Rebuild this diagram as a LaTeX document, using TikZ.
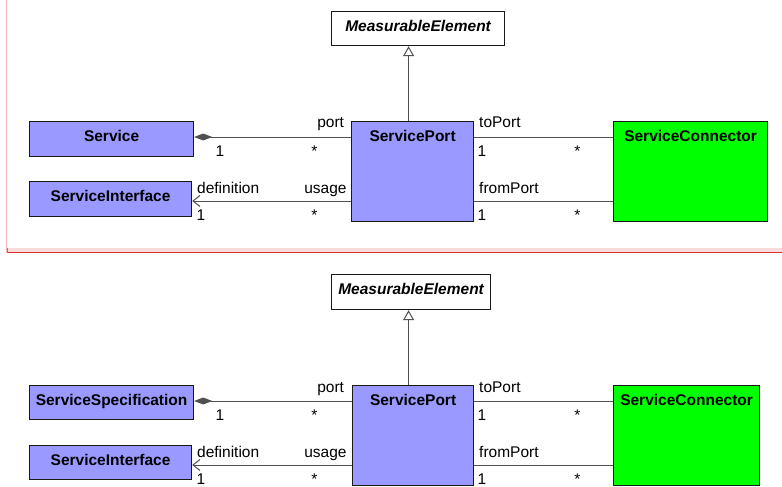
\documentclass[tikz,border=0pt]{standalone}
\usepackage{fontspec}
\setmainfont{Liberation Sans}
\usetikzlibrary{arrows.meta}

\definecolor{classfill}{RGB}{153,153,255}
\definecolor{connfill}{RGB}{0,255,0}
\definecolor{edgegray}{RGB}{80,80,80}
\definecolor{framepink}{RGB}{244,182,182}
\definecolor{bandpink}{RGB}{246,220,220}
\definecolor{framered}{RGB}{220,48,48}

\begin{document}
\begin{tikzpicture}[
  x=1pt, y=-1pt, font=\fontsize{15.5}{18}\selectfont,
  classbox/.style={draw=black!90, line width=1.2pt, fill=classfill,
    anchor=north west, inner xsep=0pt, inner ysep=0pt,
    text height=19.5pt, font=\fontsize{15.5}{18}\selectfont\bfseries},
  abstractbox/.style={classbox, fill=white,
    font=\fontsize{15.5}{18}\selectfont\bfseries\itshape},
  role/.style={inner sep=0pt},
  assoc/.style={draw=edgegray, line width=1pt},
  compose/.style={assoc, {Diamond[length=18pt,width=7pt]}-},
  navig/.style={assoc, {Straight Barb[length=7pt,width=11pt]}-},
  inherit/.style={assoc, -{Triangle[open,length=10pt,width=11pt,fill=white]}}
]
% Pixel grid: 782 by 487, y runs downwards.
\path[use as bounding box] (0,0) rectangle (782,487);

% Frame of the upper panel: pink left edge and a red rule under it.
\fill[bandpink] (7,248) rectangle (782,252);
\draw[framered, line width=1.2pt] (7,252.5) -- (782,252.5);
\draw[framepink, line width=1pt] (6,0) -- (6,253);
\draw[framered!80, line width=1pt] (7.5,248) -- (7.5,253);

% Upper panel: classes.
\node[abstractbox, minimum width=173pt, text depth=14.5pt] (me1) at (331,11)
  {MeasurableElement};
\node[classbox, minimum width=164pt, text depth=15.5pt] (sv1) at (29,121)
  {Service};
\node[classbox, minimum width=162pt, text depth=15.5pt] (si1) at (29,181)
  {ServiceInterface};
\node[classbox, minimum width=122pt, text depth=80.5pt] (sp1) at (351,121)
  {ServicePort};
\node[classbox, fill=connfill, minimum width=154pt, text depth=80.5pt]
  (sc1) at (613,121) {ServiceConnector};

% Upper panel: relations with their role names and multiplicities.
\draw[inherit] ([xshift=-4pt]sp1.north) -- ([xshift=-4pt]sp1.north |- me1.south);
\draw[compose] ([yshift=-16pt]sv1.north east) -- ([yshift=-16pt]sp1.north west)
  node[role, pos=0, anchor=base west, xshift=21pt, yshift=-19pt] (portone1) {1}
  node[role, pos=1, anchor=base east, xshift=-33pt, yshift=-19pt] (portmany1) {*}
  node[role, pos=1, anchor=base east, xshift=-6.5pt, yshift=9pt] (portrole1) {port};
\draw[navig] ([yshift=-20pt]si1.north east) -- ([yshift=-20pt]si1.north east -| sp1.west)
  node[role, pos=0, anchor=base west, xshift=4.5pt, yshift=8pt] (defrole1) {definition}
  node[role, pos=0, anchor=base west, xshift=4pt, yshift=-19pt] (defone1) {1}
  node[role, pos=1, anchor=base east, xshift=-4pt, yshift=8pt] (userole1) {usage}
  node[role, pos=1, anchor=base east, xshift=-33pt, yshift=-19pt] (usemany1) {*};
\draw[assoc] ([yshift=-16pt]sp1.north east) -- ([yshift=-16pt]sc1.north west)
  node[role, pos=0, anchor=base west, xshift=4.5pt, yshift=9pt] (torole1) {toPort}
  node[role, pos=0, anchor=base west, xshift=3pt, yshift=-19pt] (toone1) {1}
  node[role, pos=1, anchor=base east, xshift=-32pt, yshift=-19pt] (tomany1) {*};
\draw[assoc] ([yshift=-80pt]sp1.north east) -- ([yshift=-80pt]sc1.north west)
  node[role, pos=0, anchor=base west, xshift=4.5pt, yshift=8pt] (fromrole1) {fromPort}
  node[role, pos=0, anchor=base west, xshift=3pt, yshift=-19pt] (fromone1) {1}
  node[role, pos=1, anchor=base east, xshift=-32pt, yshift=-19pt] (frommany1) {*};

% Lower panel: classes.
\node[abstractbox, minimum width=159pt, text depth=15.5pt] (me2) at (331,274)
  {MeasurableElement};
\node[classbox, minimum width=164pt, text depth=14.5pt] (ss2) at (29,385)
  {ServiceSpecification};
\node[classbox, minimum width=162pt, text depth=14.5pt] (si2) at (29,445)
  {ServiceInterface};
\node[classbox, minimum width=121pt, text depth=80.5pt] (sp2) at (352,385)
  {ServicePort};
\node[classbox, fill=connfill, minimum width=146pt, text depth=80.5pt]
  (sc2) at (613,385) {ServiceConnector};

% Lower panel: relations.
\draw[inherit] ([xshift=-4.5pt]sp2.north) -- ([xshift=-4.5pt]sp2.north |- me2.south);
\draw[compose] ([yshift=-16pt]ss2.north east) -- ([yshift=-16pt]sp2.north west)
  node[role, pos=0, anchor=base west, xshift=21pt, yshift=-19pt] (portone2) {1}
  node[role, pos=1, anchor=base east, xshift=-34pt, yshift=-19pt] (portmany2) {*}
  node[role, pos=1, anchor=base east, xshift=-7.5pt, yshift=9pt] (portrole2) {port};
\draw[navig] ([yshift=-20pt]si2.north east) -- ([yshift=-20pt]si2.north east -| sp2.west)
  node[role, pos=0, anchor=base west, xshift=4.5pt, yshift=8pt] (defrole2) {definition}
  node[role, pos=0, anchor=base west, xshift=4pt, yshift=-19pt] (defone2) {1}
  node[role, pos=1, anchor=base east, xshift=-5pt, yshift=8pt] (userole2) {usage}
  node[role, pos=1, anchor=base east, xshift=-34pt, yshift=-19pt] (usemany2) {*};
\draw[assoc] ([yshift=-16pt]sp2.north east) -- ([yshift=-16pt]sc2.north west)
  node[role, pos=0, anchor=base west, xshift=4.5pt, yshift=9pt] (torole2) {toPort}
  node[role, pos=0, anchor=base west, xshift=3pt, yshift=-19pt] (toone2) {1}
  node[role, pos=1, anchor=base east, xshift=-32pt, yshift=-19pt] (tomany2) {*};
\draw[assoc] ([yshift=-80pt]sp2.north east) -- ([yshift=-80pt]sc2.north west)
  node[role, pos=0, anchor=base west, xshift=4.5pt, yshift=8pt] (fromrole2) {fromPort}
  node[role, pos=0, anchor=base west, xshift=3pt, yshift=-19pt] (fromone2) {1}
  node[role, pos=1, anchor=base east, xshift=-32pt, yshift=-19pt] (frommany2) {*};
\end{tikzpicture}
\end{document}
